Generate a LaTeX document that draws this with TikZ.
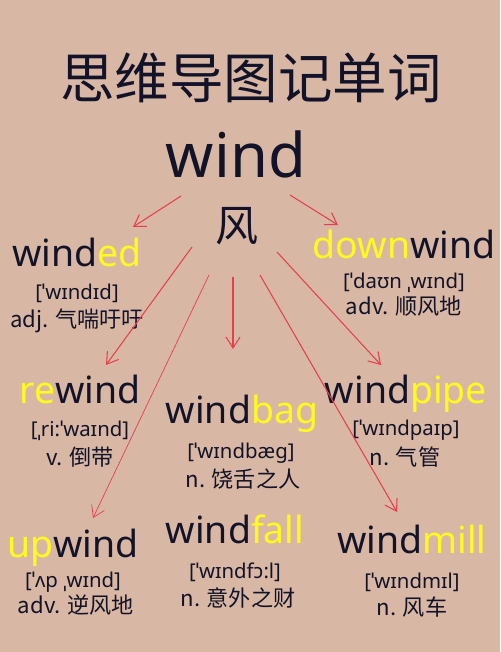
\documentclass[tikz,border=0pt]{standalone}
\usepackage{fontspec}
\setmainfont{Noto Sans}
\newfontfamily\cjk{Noto Sans CJK SC}
\usetikzlibrary{arrows.meta}
\definecolor{paper}{RGB}{216,184,164}
\definecolor{ink}{RGB}{18,18,40}
\definecolor{hl}{RGB}{255,250,30}
\definecolor{arrowred}{RGB}{232,62,78}
\newcommand{\fsz}[1]{\fontsize{#1}{#1}\selectfont}
\tikzset{>={Straight Barb[length=2.2mm,width=2.8mm]},
  word/.style = {anchor=base,inner sep=0pt,text=ink,font=\fsz{21.3}},
  phon/.style = {inner sep=0pt,text=ink,font=\fsz{11.6}},
  mean/.style = {inner sep=0pt,text=ink,font=\cjk\fsz{12.6}},
  link/.style = {->,arrowred,line width=0.6pt}
}
\newcommand{\hl}[1]{\textcolor{hl}{#1}}

\begin{document}
\begin{tikzpicture}[x=0.2mm,y=-0.2mm]
  \fill[paper] (0,0) rectangle (500,652);
  \useasboundingbox (0,0) rectangle (500,652);

  \node[inner sep=0pt,text=ink,font=\cjk\fsz{31}] (title) at (251,78) {思维导图记单词};
  \node[word,font=\fsz{35}] (wind) at (236,178) {wind};
  \node[inner sep=0pt,text=ink,font=\cjk\fsz{24.5}] (feng) at (237,226) {风};

  % words
  \node[word] (winded) at (77,266) {wind\hl{ed}};
  \node[phon] (windedP) at (77,293) {[ˈwɪndɪd]};
  \node[mean] (windedM) at (77,321) {adj. 气喘吁吁};

  \node[word] (downwind) at (404,258) {\hl{down}wind};
  \node[phon] (downwindP) at (404,283) {[ˈdaʊn ˌwɪnd]};
  \node[mean] (downwindM) at (404,306) {adv. 顺风地};

  \node[word] (rewind) at (80,403) {\hl{re}wind};
  \node[phon] (rewindP) at (80,431) {[ˌri:ˈwaɪnd]};
  \node[mean] (rewindM) at (80,457) {v. 倒带};

  \node[word] (windbag) at (242,423) {wind\hl{bag}};
  \node[phon] (windbagP) at (241,453) {[ˈwɪndbæg]};
  \node[mean] (windbagM) at (243,479) {n. 饶舌之人};

  \node[word] (windpipe) at (406,403) {wind\hl{pipe}};
  \node[phon] (windpipeP) at (406,430) {[ˈwɪndpaɪp]};
  \node[mean] (windpipeM) at (405,457) {n. 气管};

  \node[word] (upwind) at (73,557) {\hl{up}wind};
  \node[phon] (upwindP) at (73,582) {[ˈʌp ˌwɪnd]};
  \node[mean] (upwindM) at (76,605) {adv. 逆风地};

  \node[word] (windfall) at (235,543) {wind\hl{fall}};
  \node[phon] (windfallP) at (235,572) {[ˈwɪndfɔ:l]};
  \node[mean] (windfallM) at (238,598) {n. 意外之财};

  \node[word] (windmill) at (412,553) {wind\hl{mill}};
  \node[phon] (windmillP) at (412,582) {[ˈwɪndmɪl]};
  \node[mean] (windmillM) at (412,607) {n. 风车};

  % arrow ends
  \coordinate (s1) at (181,196);  \coordinate (e1) at (133,227);
  \coordinate (s2) at (290,195);  \coordinate (e2) at (338,225);
  \coordinate (s3) at (192,247);  \coordinate (e3) at (106,365);
  \coordinate (s4) at (233,277);  \coordinate (e4) at (233,349);
  \coordinate (s5) at (277,252);  \coordinate (e5) at (381,365);
  \coordinate (s6) at (209,275);  \coordinate (e6) at (93,518);
  \coordinate (s7) at (260,275);  \coordinate (e7) at (397,512);

  \draw[link] (s1) -- (e1);
  \draw[link] (s2) -- (e2);
  \draw[link] (s3) -- (e3);
  \draw[link] (s4) -- (e4);
  \draw[link] (s5) -- (e5);
  \draw[link,line width=0.4pt] (s6) -- (e6);
  \draw[link] (s7) -- (e7);
\end{tikzpicture}
\end{document}
